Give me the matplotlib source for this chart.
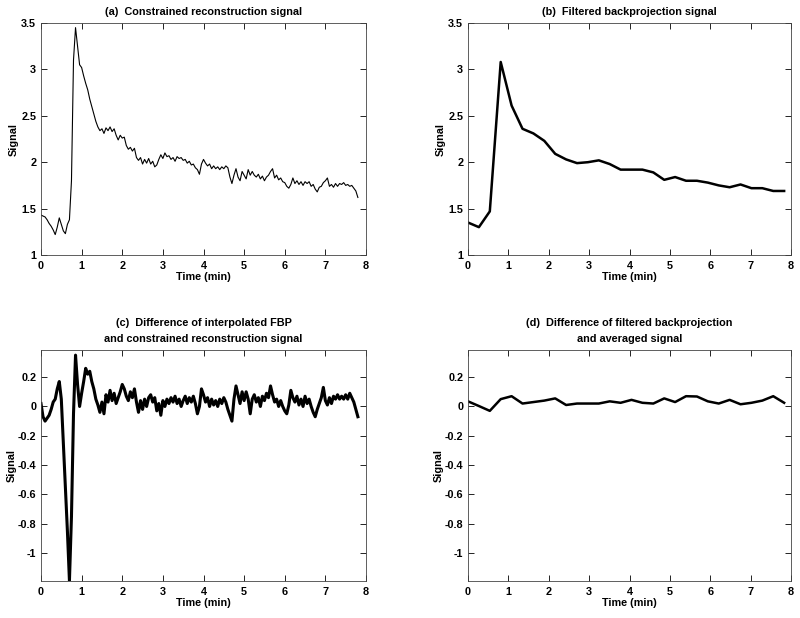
import numpy as np
import matplotlib
matplotlib.use("Agg")
import matplotlib.pyplot as plt
from matplotlib.ticker import FuncFormatter, MultipleLocator

plt.rcParams['font.family'] = ['Liberation Sans', 'DejaVu Sans']
plt.rcParams['font.weight'] = 'bold'
plt.rcParams['axes.unicode_minus'] = False

# ---- data ----
dt_fine = 0.05   # sampling interval (min) of constrained reconstruction
dt_fbp = 0.27    # sampling interval (min) of filtered backprojection

constrained_signal = [
    1.43, 1.42, 1.41, 1.38, 1.34, 1.31, 1.27, 1.22, 1.30, 1.40,
    1.33, 1.26, 1.23, 1.33, 1.38, 1.80, 3.10, 3.45, 3.25, 3.05,
    3.02, 2.93, 2.85, 2.78, 2.68, 2.60, 2.52, 2.44, 2.38, 2.34,
    2.36, 2.31, 2.37, 2.34, 2.38, 2.33, 2.36, 2.29, 2.24, 2.29,
    2.26, 2.27, 2.18, 2.14, 2.16, 2.12, 2.15, 2.05, 2.02, 2.05,
    1.98, 2.03, 1.99, 2.04, 1.98, 2.01, 1.95, 1.97, 2.03, 2.08,
    2.04, 2.10, 2.06, 2.07, 2.03, 2.05, 2.01, 2.06, 2.04, 2.05,
    2.02, 2.03, 1.99, 2.01, 1.97, 1.98, 1.94, 1.92, 1.87, 1.98,
    2.03, 1.99, 1.96, 1.98, 1.93, 1.96, 1.93, 1.95, 1.92, 1.95,
    1.93, 1.96, 1.94, 1.84, 1.77, 1.86, 1.93, 1.84, 1.80, 1.90,
    1.86, 1.82, 1.92, 1.86, 1.90, 1.86, 1.84, 1.87, 1.82, 1.85,
    1.80, 1.84, 1.86, 1.90, 1.93, 1.83, 1.86, 1.81, 1.83, 1.79,
    1.78, 1.74, 1.72, 1.76, 1.83, 1.77, 1.80, 1.76, 1.79, 1.75,
    1.79, 1.77, 1.79, 1.74, 1.76, 1.71, 1.68, 1.73, 1.74, 1.78,
    1.80, 1.83, 1.74, 1.76, 1.73, 1.77, 1.74, 1.77, 1.76, 1.78,
    1.75, 1.76, 1.74, 1.75, 1.72, 1.69, 1.62,
]

fbp_signal = [
    1.35, 1.30, 1.47, 3.08, 2.61, 2.36, 2.31, 2.23, 2.09, 2.03,
    1.99, 2.00, 2.02, 1.98, 1.92, 1.92, 1.92, 1.89, 1.81, 1.84,
    1.80, 1.80, 1.78, 1.75, 1.73, 1.76, 1.72, 1.72, 1.69, 1.69,
]

diff_interp_fbp = [
    0.02, -0.07, -0.10, -0.08, -0.06, -0.02, 0.03, 0.05, 0.12, 0.17,
    0.05, -0.25, -0.55, -0.85, -1.19, -0.75, -0.05, 0.35, 0.15, 0.00,
    0.09, 0.17, 0.26, 0.22, 0.24, 0.17, 0.12, 0.05, 0.01, -0.04,
    0.03, -0.05, 0.08, 0.03, 0.11, 0.04, 0.09, 0.02, 0.06, 0.10,
    0.15, 0.12, 0.07, 0.04, 0.10, 0.06, 0.12, 0.03, -0.04, 0.04,
    -0.02, 0.05, 0.00, 0.06, 0.08, 0.03, 0.06, -0.03, 0.02, -0.06,
    0.04, 0.00, 0.05, 0.02, 0.06, 0.03, 0.07, 0.02, 0.05, 0.00,
    0.04, 0.07, 0.02, 0.06, 0.03, 0.07, 0.02, -0.05, 0.00, 0.12,
    0.08, 0.03, 0.06, 0.00, 0.05, 0.01, 0.04, 0.00, 0.05, 0.02,
    0.06, 0.03, -0.02, -0.06, -0.10, 0.05, 0.14, 0.08, 0.02, 0.10,
    0.04, 0.10, 0.05, -0.05, 0.05, 0.08, 0.03, 0.06, 0.00, 0.07,
    0.04, 0.09, 0.06, 0.14, 0.08, 0.03, 0.05, 0.00, 0.04, 0.00,
    -0.03, -0.05, 0.01, 0.11, 0.06, 0.03, 0.07, 0.01, 0.05, 0.00,
    0.07, 0.02, 0.05, 0.00, -0.04, -0.07, -0.02, 0.02, 0.06, 0.13,
    0.04, 0.01, 0.06, 0.02, 0.07, 0.05, 0.08, 0.05, 0.07, 0.05,
    0.08, 0.05, 0.09, 0.06, 0.03, -0.02, -0.07,
]

diff_fbp_avg = [
    0.035, 0.003, -0.030, 0.050, 0.070, 0.020, 0.030, 0.040, 0.055, 0.010,
    0.020, 0.020, 0.020, 0.035, 0.025, 0.045, 0.025, 0.020, 0.055, 0.030,
    0.070, 0.068, 0.035, 0.020, 0.045, 0.015, 0.025, 0.040, 0.070, 0.025,
]

titles = [
    "(a)  Constrained reconstruction signal",
    "(b)  Filtered backprojection signal",
    "(c)  Difference of interpolated FBP\nand constrained reconstruction signal",
    "(d)  Difference of filtered backprojection\nand averaged signal",
]
xlabel = "Time (min)"
ylabel = "Signal"

t_fine_a = np.arange(len(constrained_signal)) * dt_fine
t_fine_c = np.arange(len(diff_interp_fbp)) * dt_fine
t_fbp = np.arange(len(fbp_signal)) * dt_fbp

fig = plt.figure(figsize=(8.0, 6.18), dpi=100)
W, H = 800, 618

def add_ax(left, top, right, bottom):
    return fig.add_axes([left / W, 1 - bottom / H, (right - left) / W, (bottom - top) / H])

ax_a = add_ax(41, 23, 366, 255)
ax_b = add_ax(468, 23, 791, 255)
ax_c = add_ax(41, 350, 366, 581)
ax_d = add_ax(468, 350, 791, 581)

FS = 7.8
fmt = FuncFormatter(lambda v, p: "{:g}".format(round(v, 6)))

def style(ax, title, ylim, ystep, ylabpad):
    ax.set_xlim(0, 8)
    ax.set_ylim(*ylim)
    ax.xaxis.set_major_locator(MultipleLocator(1))
    ax.yaxis.set_major_locator(MultipleLocator(ystep))
    ax.yaxis.set_major_formatter(fmt)
    ax.xaxis.set_major_formatter(fmt)
    ax.tick_params(direction='in', length=4, width=0.6, top=True, right=True,
                   labelsize=FS, pad=3.5, colors='black')
    ax.tick_params(axis='x', pad=4)
    for lab in ax.get_xticklabels() + ax.get_yticklabels():
        lab.set_fontweight('bold')
    for s in ax.spines.values():
        s.set_linewidth(0.6)
        s.set_color('#444444')
    ax.set_title(title, fontsize=FS, fontweight='bold', pad=6, linespacing=1.75)
    ax.set_xlabel(xlabel, fontsize=FS, fontweight='bold', labelpad=1)
    ax.set_ylabel(ylabel, fontsize=FS, fontweight='bold', labelpad=ylabpad)

ax_a.plot(t_fine_a, constrained_signal, color='black', lw=0.8)
style(ax_a, titles[0], (1, 3.5), 0.5, 1.5)

ax_b.plot(t_fbp, fbp_signal, color='black', lw=1.8)
style(ax_b, titles[1], (1, 3.5), 0.5, 1.5)

ax_c.plot(t_fine_c, diff_interp_fbp, color='black', lw=2.2)
style(ax_c, titles[2], (-1.19, 0.385), 0.2, 0.5)

ax_d.plot(t_fbp, diff_fbp_avg, color='black', lw=1.8)
style(ax_d, titles[3], (-1.19, 0.385), 0.2, 0.5)

fig.savefig("out.png", dpi=100)
